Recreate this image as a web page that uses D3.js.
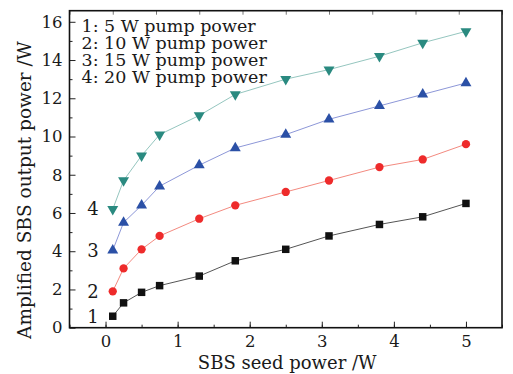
<!DOCTYPE html>
<html>
<head>
<meta charset="utf-8">
<script src="https://cdn.jsdelivr.net/npm/d3@7"></script>
<style>
    body { margin: 0; background: #fff; }
    text { font-family: "DejaVu Serif", serif; fill: #1a1a1a; }
</style>
</head>
<body>
<svg width="513" height="374"></svg>
<script>
// seed power (W), shared by all curves
let seedPower = [0.1, 0.25, 0.5, 0.75, 1.3, 1.8, 2.5, 3.1, 3.8, 4.4, 5];

// amplified output (W) for each pump power
let pump5 = [0.6, 1.3, 1.85, 2.2, 2.7, 3.5, 4.1, 4.8, 5.4, 5.8, 6.5];
let pump10 = [1.9, 3.1, 4.1, 4.8, 5.7, 6.4, 7.1, 7.7, 8.4, 8.8, 9.6];
let pump15 = [4.05, 5.5, 6.4, 7.4, 8.5, 9.4, 10.1, 10.9, 11.6, 12.2, 12.8];
let pump20 = [6.2, 7.7, 9.0, 10.1, 11.1, 12.2, 13.0, 13.5, 14.2, 14.9, 15.5];

let curveNames = ["1", "2", "3", "4"];
let legendText = ["1: 5 W pump power", "2: 10 W pump power", "3: 15 W pump power", "4: 20 W pump power"];
let xTicks = [0, 1, 2, 3, 4, 5];
let yTicks = [0, 2, 4, 6, 8, 10, 12, 14, 16];

let svg = d3.select("svg"),
    margin = {top: 10.7, right: 11, bottom: 46.3, left: 69.5},
    width = +svg.attr("width") - margin.left - margin.right,
    height = +svg.attr("height") - margin.top - margin.bottom;

let x = d3.scaleLinear().domain([-0.5, 5.5]).range([0, width]),
    y = d3.scaleLinear().domain([0, 16.58]).range([height, 0]);

let g = svg.append("g")
    .attr("transform", "translate(" + margin.left + "," + margin.top + ")");

let styles = [
    {marker: "square", fill: "#111111", line: "#555555"},
    {marker: "circle", fill: "#ee2b2b", line: "#f38a80"},
    {marker: "up", fill: "#2b50a6", line: "#8d97d8"},
    {marker: "down", fill: "#2a8a80", line: "#95c6bf"}
];

let series = [pump5, pump10, pump15, pump20].map(function (vals, i) {
    return {
        name: curveNames[i],
        style: styles[i],
        points: vals.map(function (v, j) { return {x: seedPower[j], y: v}; })
    };
});

// axes (ticks pointing inward)
g.append("g")
    .attr("class", "axis axis--x")
    .attr("transform", "translate(0," + height + ")")
    .call(d3.axisBottom(x).tickValues(d3.range(-0.5, 5.51, 0.5)).tickSize(-3).tickFormat(""));
g.append("g")
    .attr("class", "axis axis--x")
    .attr("transform", "translate(0," + height + ")")
    .call(d3.axisBottom(x).tickValues(xTicks).tickSize(-6).tickPadding(8).tickFormat(d3.format("d")));

g.append("g")
    .attr("class", "axis axis--y")
    .call(d3.axisLeft(y).tickValues(d3.range(1, 16, 2)).tickSize(-3).tickFormat(""));
g.append("g")
    .attr("class", "axis axis--y")
    .call(d3.axisLeft(y).tickValues(yTicks).tickSize(-6).tickPadding(7).tickFormat(d3.format("d")));

// top edge ticks
let xTop = d3.scaleLinear().domain([0, 10]).range([0, width]);
g.append("g")
    .attr("class", "axis axis--top")
    .call(d3.axisTop(xTop).ticks(10).tickSize(-4).tickFormat(""));

g.selectAll(".axis path.domain").remove();
g.selectAll(".axis line").attr("stroke", "#222").attr("stroke-width", 1);
g.selectAll(".axis--top line").attr("stroke", "#777");
g.selectAll(".axis text").style("font-size", "16.5px").attr("fill", "#1a1a1a");

g.append("rect")
    .attr("width", width)
    .attr("height", height)
    .attr("fill", "none")
    .attr("stroke", "#111")
    .attr("stroke-width", 1.6);

// curves
let line = d3.line()
    .x(function (d) { return x(d.x); })
    .y(function (d) { return y(d.y); });

let sg = g.selectAll(".series")
    .data(series)
    .enter().append("g")
    .attr("class", "series");

sg.append("path")
    .attr("d", function (d) { return line(d.points); })
    .attr("fill", "none")
    .attr("stroke", function (d) { return d.style.line; })
    .attr("stroke-width", 1);

let symbolOf = {
    square: d3.symbol().type(d3.symbolSquare).size(56),
    circle: d3.symbol().type(d3.symbolCircle).size(54),
    up: d3.symbol().type(d3.symbolTriangle).size(52),
    down: d3.symbol().type(d3.symbolTriangle).size(52)
};

sg.each(function (s) {
    d3.select(this).selectAll(".pt")
        .data(s.points)
        .enter().append("path")
        .attr("class", "pt")
        .attr("d", symbolOf[s.style.marker]())
        .attr("transform", function (d) {
            let t = "translate(" + x(d.x) + "," + y(d.y) + ")";
            return s.style.marker === "down" ? t + " rotate(180)" : t;
        })
        .attr("fill", s.style.fill);
});

// curve numbers next to first point
sg.append("text")
    .attr("x", function (d) { return x(d.points[0].x) - 14; })
    .attr("y", function (d) { return y(d.points[0].y); })
    .attr("dy", "0.35em")
    .attr("text-anchor", "end")
    .style("font-size", "18px")
    .text(function (d) { return d.name; });

// legend
g.selectAll(".legend")
    .data(legendText)
    .enter().append("text")
    .attr("class", "legend")
    .attr("x", 12)
    .attr("y", function (d, i) { return 21.6 + i * 16.8; })
    .style("font-size", "17.5px")
    .text(function (d) { return d; });

// axis titles
svg.append("text")
    .attr("x", margin.left + x(2.52))
    .attr("y", 369)
    .attr("text-anchor", "middle")
    .style("font-size", "18px")
    .text("SBS seed power /W");

svg.append("text")
    .attr("transform", "translate(31," + (margin.top + y(7.2)) + ") rotate(-90)")
    .attr("text-anchor", "middle")
    .style("font-size", "18.5px")
    .text("Amplified SBS output power /W");
</script>
</body>
</html>
